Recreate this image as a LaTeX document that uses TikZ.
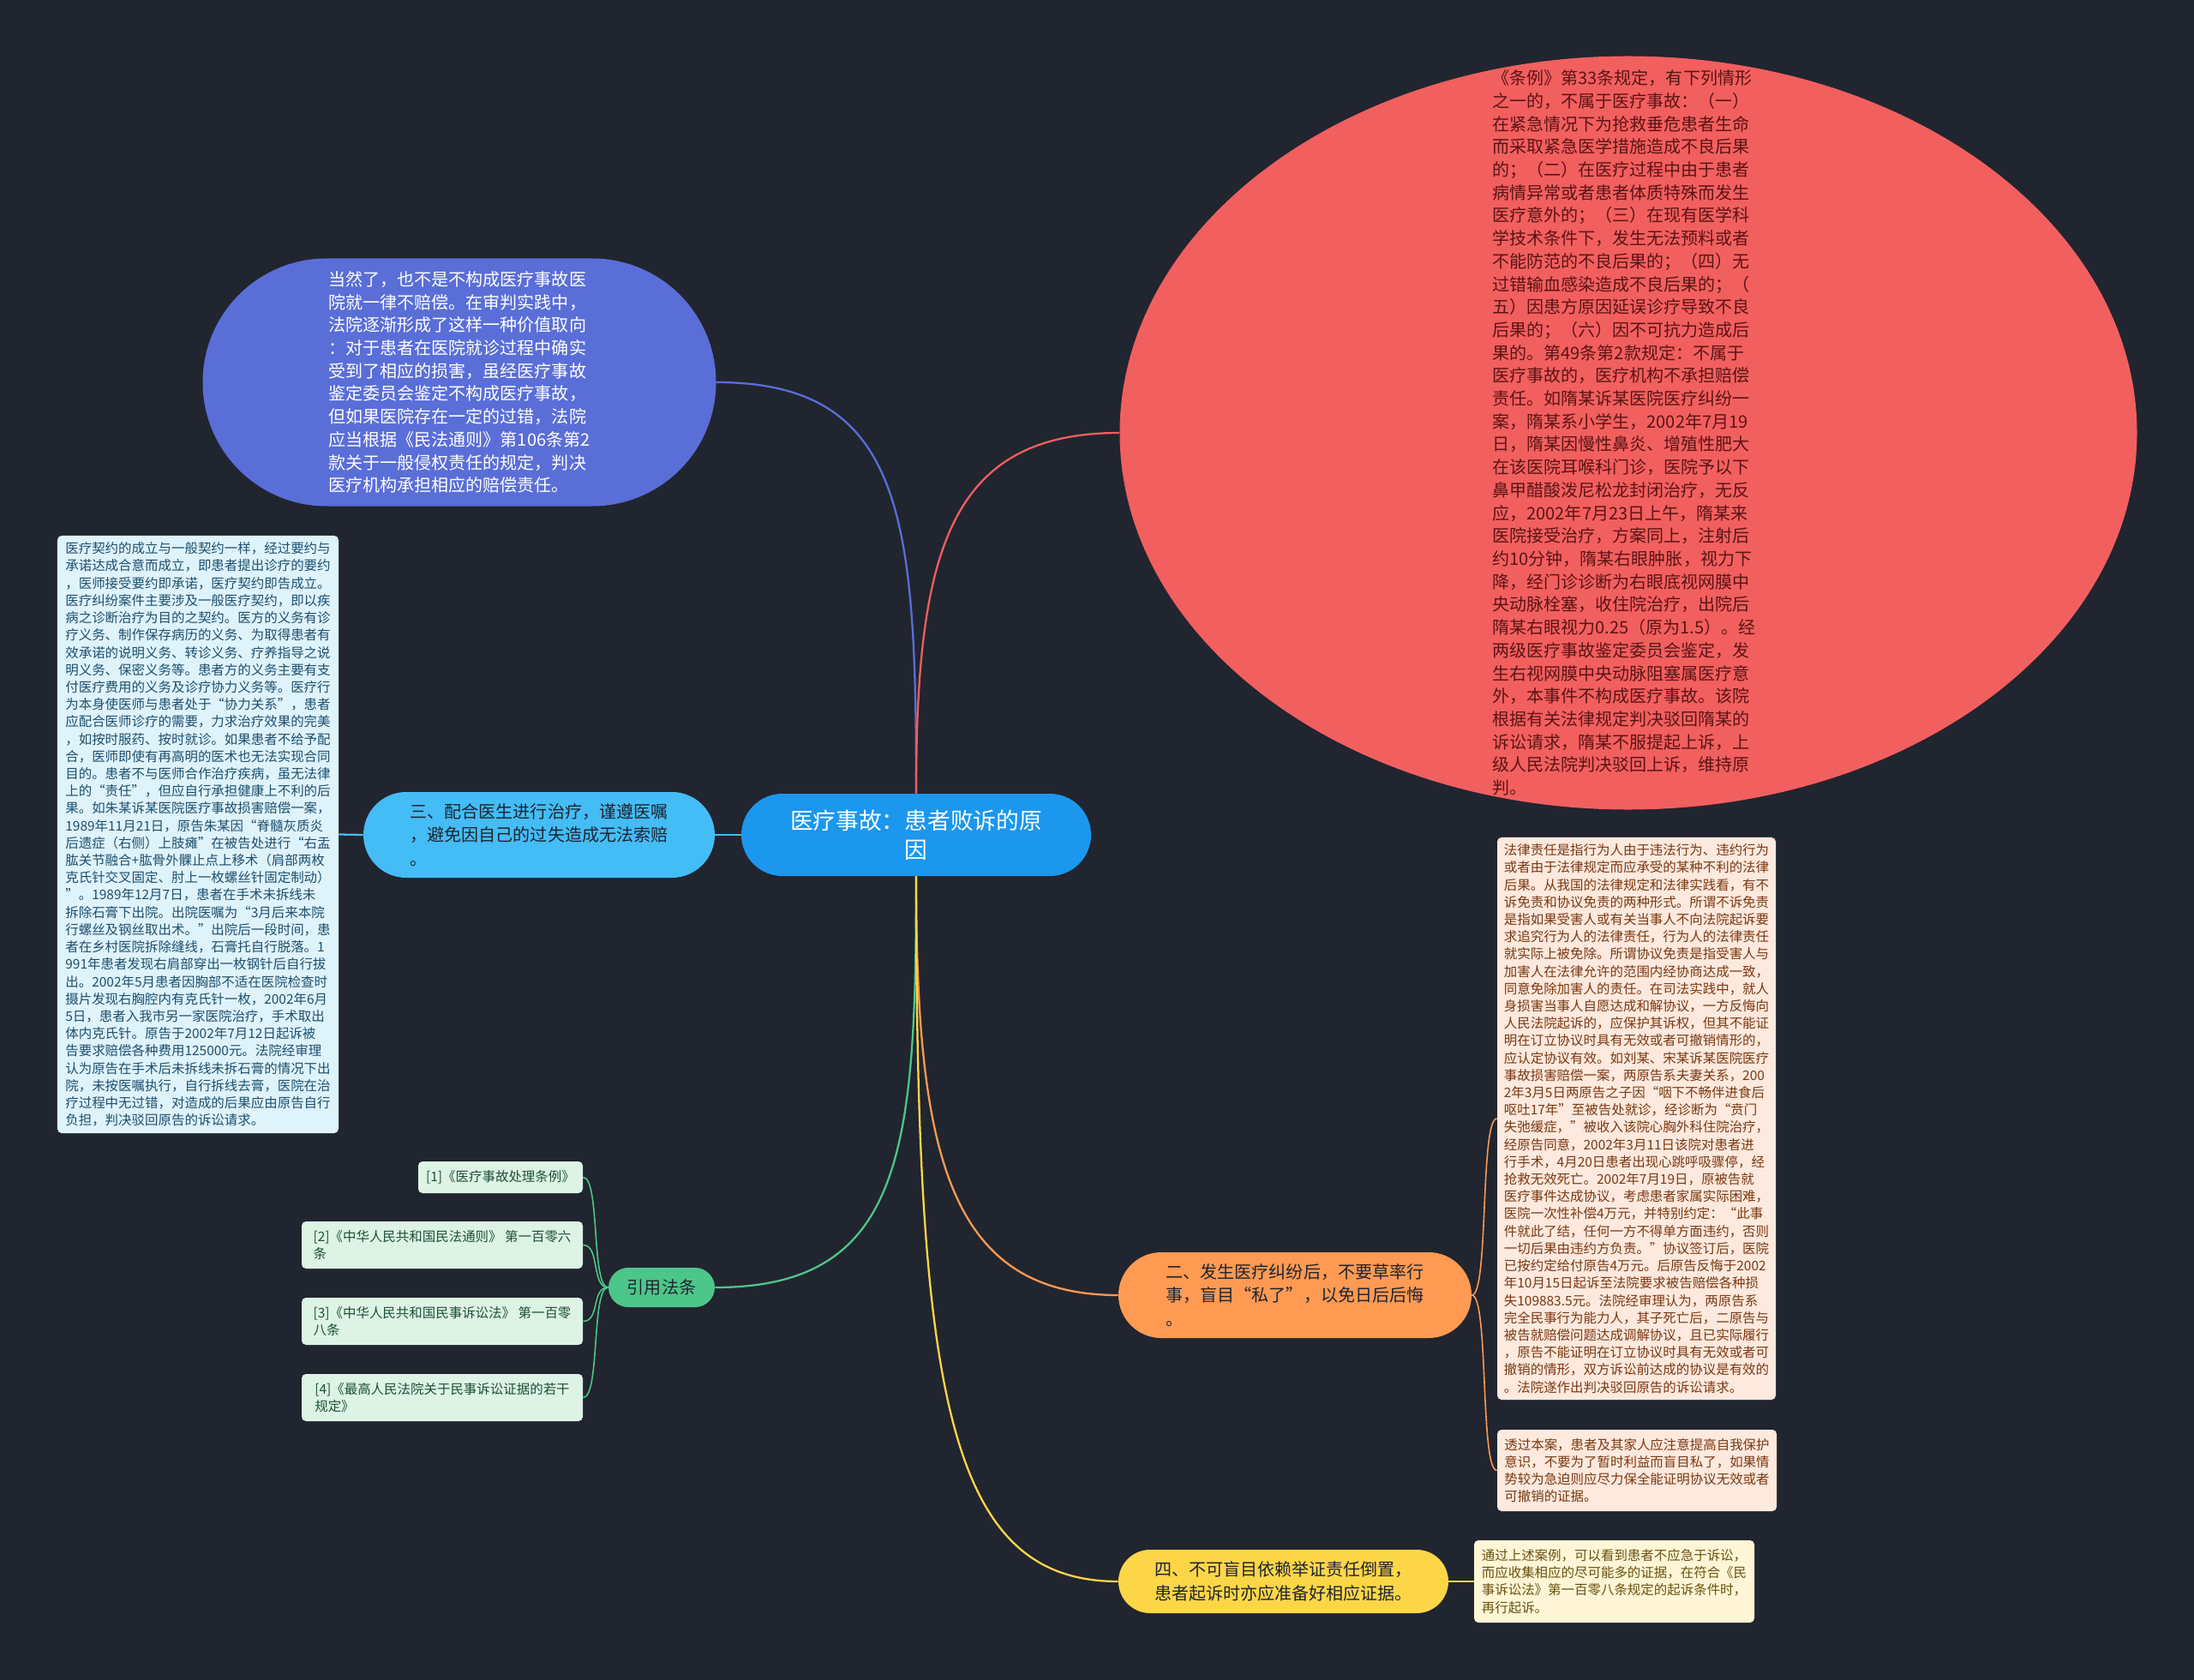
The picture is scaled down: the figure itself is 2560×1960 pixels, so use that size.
\documentclass[tikz,border=0pt]{standalone}
\usepackage{fontspec}
\setmainfont{Noto Sans CJK SC}
\usetikzlibrary{shapes.geometric}

\definecolor{bgdark}{HTML}{21252F}
\definecolor{ctrblue}{HTML}{1B97EE}
\definecolor{ovalblue}{HTML}{5A6ED8}
\definecolor{ovalred}{HTML}{F25F5F}
\definecolor{redink}{HTML}{5A1414}
\definecolor{skyblue}{HTML}{44BCF6}
\definecolor{iceblue}{HTML}{DFF3FB}
\definecolor{tealink}{HTML}{1C4F6E}
\definecolor{citegreen}{HTML}{4DC689}
\definecolor{mint}{HTML}{DCF3E5}
\definecolor{greenink}{HTML}{1F4F38}
\definecolor{orangebr}{HTML}{FF9A52}
\definecolor{peach}{HTML}{FDE9DE}
\definecolor{brownink}{HTML}{7A3810}
\definecolor{yellowbr}{HTML}{FDD648}
\definecolor{cream}{HTML}{FEF6D6}
\definecolor{oliveink}{HTML}{6A5010}
\definecolor{darkink}{HTML}{1F2430}

\begin{document}
\begin{tikzpicture}[x=0.2mm, y=-0.2mm,
    pill/.style={rounded corners=#1, inner sep=0pt, align=left},
    note/.style={rounded corners=1mm, inner sep=0pt, align=left, font=\fontsize{8.8}{11.5}\selectfont},
    big/.style={font=\fontsize{11.4}{15.2}\selectfont},
    mid/.style={font=\fontsize{11.4}{15.8}\selectfont},
    link/.style={draw, line width=1.3pt},
    thin/.style={draw, line width=0.9pt}
]
    \fill[bgdark] (0,0) rectangle (2560,1960);
    \useasboundingbox (0,0) rectangle (2560,1960);

    % centre
    \node [pill=9.6mm, fill=ctrblue, text=white, align=center, minimum width=81.6mm, minimum height=19.2mm,
           font=\fontsize{15.2}{19.3}\selectfont] (ctr) at (1069,974) {医疗事故：患者败诉的原\\因};

    % top left oval
    \node [pill=28.9mm, fill=ovalblue, text=white, big, minimum width=119.8mm, minimum height=57.8mm] (blueoval) at (536,446) {当然了，也不是不构成医疗事故医\\
院就一律不赔偿。在审判实践中，\\
法院逐渐形成了这样一种价值取向\\
：对于患者在医院就诊过程中确实\\
受到了相应的损害，虽经医疗事故\\
鉴定委员会鉴定不构成医疗事故，\\
但如果医院存在一定的过错，法院\\
应当根据《民法通则》第106条第2\\
款关于一般侵权责任的规定，判决\\
医疗机构承担相应的赔偿责任。};

    % top right oval
    \node [ellipse, fill=ovalred, minimum width=237.4mm, minimum height=175.8mm, inner sep=0pt] (redoval) at (1900,505) {};
    \node [text=redink, big, align=left, inner sep=0pt] (redtxt) at (1895,505) {《条例》第33条规定，有下列情形\\
之一的，不属于医疗事故：（一）\\
在紧急情况下为抢救垂危患者生命\\
而采取紧急医学措施造成不良后果\\
的；（二）在医疗过程中由于患者\\
病情异常或者患者体质特殊而发生\\
医疗意外的；（三）在现有医学科\\
学技术条件下，发生无法预料或者\\
不能防范的不良后果的；（四）无\\
过错输血感染造成不良后果的；（\\
五）因患方原因延误诊疗导致不良\\
后果的；（六）因不可抗力造成后\\
果的。第49条第2款规定：不属于\\
医疗事故的，医疗机构不承担赔偿\\
责任。如隋某诉某医院医疗纠纷一\\
案，隋某系小学生，2002年7月19\\
日，隋某因慢性鼻炎、增殖性肥大\\
在该医院耳喉科门诊，医院予以下\\
鼻甲醋酸泼尼松龙封闭治疗，无反\\
应，2002年7月23日上午，隋某来\\
医院接受治疗，方案同上，注射后\\
约10分钟，隋某右眼肿胀，视力下\\
降，经门诊诊断为右眼底视网膜中\\
央动脉栓塞，收住院治疗，出院后\\
隋某右眼视力0.25（原为1.5）。经\\
两级医疗事故鉴定委员会鉴定，发\\
生右视网膜中央动脉阻塞属医疗意\\
外，本事件不构成医疗事故。该院\\
根据有关法律规定判决驳回隋某的\\
诉讼请求，隋某不服提起上诉，上\\
级人民法院判决驳回上诉，维持原\\
判。};

    % branch three and its note
    \node [pill=10mm, fill=skyblue, text=darkink, mid, minimum width=82mm, minimum height=20mm] (br3) at (629,974) {三、配合医生进行治疗，谨遵医嘱\\，避免因自己的过失造成无法索赔\\。};
    \node [note, fill=iceblue, text=tealink, minimum width=65.6mm, minimum height=139.4mm] (leftnote) at (231,973.5) {医疗契约的成立与一般契约一样，经过要约与\\
承诺达成合意而成立，即患者提出诊疗的要约\\
，医师接受要约即承诺，医疗契约即告成立。\\
医疗纠纷案件主要涉及一般医疗契约，即以疾\\
病之诊断治疗为目的之契约。医方的义务有诊\\
疗义务、制作保存病历的义务、为取得患者有\\
效承诺的说明义务、转诊义务、疗养指导之说\\
明义务、保密义务等。患者方的义务主要有支\\
付医疗费用的义务及诊疗协力义务等。医疗行\\
为本身使医师与患者处于“协力关系”，患者\\
应配合医师诊疗的需要，力求治疗效果的完美\\
，如按时服药、按时就诊。如果患者不给予配\\
合，医师即使有再高明的医术也无法实现合同\\
目的。患者不与医师合作治疗疾病，虽无法律\\
上的“责任”，但应自行承担健康上不利的后\\
果。如朱某诉某医院医疗事故损害赔偿一案，\\
1989年11月21日，原告朱某因“脊髓灰质炎\\
后遗症（右侧）上肢瘫”在被告处进行“右盂\\
肱关节融合+肱骨外髁止点上移术（肩部两枚\\
克氏针交叉固定、肘上一枚螺丝针固定制动）\\
”。1989年12月7日，患者在手术未拆线未\\
拆除石膏下出院。出院医嘱为“3月后来本院\\
行螺丝及钢丝取出术。”出院后一段时间，患\\
者在乡村医院拆除缝线，石膏托自行脱落。1\\
991年患者发现右肩部穿出一枚钢针后自行拔\\
出。2002年5月患者因胸部不适在医院检查时\\
摄片发现右胸腔内有克氏针一枚，2002年6月\\
5日，患者入我市另一家医院治疗，手术取出\\
体内克氏针。原告于2002年7月12日起诉被\\
告要求赔偿各种费用125000元。法院经审理\\
认为原告在手术后未拆线未拆石膏的情况下出\\
院，未按医嘱执行，自行拆线去膏，医院在治\\
疗过程中无过错，对造成的后果应由原告自行\\
负担，判决驳回原告的诉讼请求。};

    % cited laws
    \node [pill=4.6mm, fill=citegreen, text=darkink, mid, minimum width=24.8mm, minimum height=9.2mm] (cite) at (772,1502) {引用法条};
    \node [note, fill=mint, text=greenink, minimum width=38.4mm, minimum height=7.4mm] (ref1) at (584,1373.5) {[1]《医疗事故处理条例》};
    \node [note, fill=mint, text=greenink, minimum width=65.6mm, minimum height=11mm] (ref2) at (516,1452.5) {[2]《中华人民共和国民法通则》 第一百零六\\条};
    \node [note, fill=mint, text=greenink, minimum width=65.6mm, minimum height=11mm] (ref3) at (516,1541.5) {[3]《中华人民共和国民事诉讼法》 第一百零\\八条};
    \node [note, fill=mint, text=greenink, minimum width=65.6mm, minimum height=11mm] (ref4) at (516,1630.5) {[4]《最高人民法院关于民事诉讼证据的若干\\规定》};

    % branch two and its notes
    \node [pill=10mm, fill=orangebr, text=darkink, mid, minimum width=82.4mm, minimum height=20mm] (br2) at (1511,1511) {二、发生医疗纠纷后，不要草率行\\事，盲目“私了”，以免日后后悔\\。};
    \node [note, fill=peach, text=brownink, minimum width=65mm, minimum height=131.2mm] (rightnote) at (1909.5,1305) {法律责任是指行为人由于违法行为、违约行为\\
或者由于法律规定而应承受的某种不利的法律\\
后果。从我国的法律规定和法律实践看，有不\\
诉免责和协议免责的两种形式。所谓不诉免责\\
是指如果受害人或有关当事人不向法院起诉要\\
求追究行为人的法律责任，行为人的法律责任\\
就实际上被免除。所谓协议免责是指受害人与\\
加害人在法律允许的范围内经协商达成一致，\\
同意免除加害人的责任。在司法实践中，就人\\
身损害当事人自愿达成和解协议，一方反悔向\\
人民法院起诉的，应保护其诉权，但其不能证\\
明在订立协议时具有无效或者可撤销情形的，\\
应认定协议有效。如刘某、宋某诉某医院医疗\\
事故损害赔偿一案，两原告系夫妻关系，200\\
2年3月5日两原告之子因“咽下不畅伴进食后\\
呕吐17年”至被告处就诊，经诊断为“贲门\\
失弛缓症，”被收入该院心胸外科住院治疗，\\
经原告同意，2002年3月11日该院对患者进\\
行手术，4月20日患者出现心跳呼吸骤停，经\\
抢救无效死亡。2002年7月19日，原被告就\\
医疗事件达成协议，考虑患者家属实际困难，\\
医院一次性补偿4万元，并特别约定：“此事\\
件就此了结，任何一方不得单方面违约，否则\\
一切后果由违约方负责。”协议签订后，医院\\
已按约定给付原告4万元。后原告反悔于2002\\
年10月15日起诉至法院要求被告赔偿各种损\\
失109883.5元。法院经审理认为，两原告系\\
完全民事行为能力人，其子死亡后，二原告与\\
被告就赔偿问题达成调解协议，且已实际履行\\
，原告不能证明在订立协议时具有无效或者可\\
撤销的情形，双方诉讼前达成的协议是有效的\\
。法院遂作出判决驳回原告的诉讼请求。};
    \node [note, fill=peach, text=brownink, minimum width=65.2mm, minimum height=19mm] (tip1) at (1910,1715.5) {透过本案，患者及其家人应注意提高自我保护\\
意识，不要为了暂时利益而盲目私了，如果情\\
势较为急迫则应尽力保全能证明协议无效或者\\
可撤销的证据。};

    % branch four and its note
    \node [pill=7.4mm, fill=yellowbr, text=darkink, mid, minimum width=77mm, minimum height=14.8mm] (br4) at (1497.5,1845) {四、不可盲目依赖举证责任倒置，\\患者起诉时亦应准备好相应证据。};
    \node [note, fill=cream, text=oliveink, minimum width=65.4mm, minimum height=19.2mm] (tip2) at (1883.5,1845) {通过上述案例，可以看到患者不应急于诉讼，\\
而应收集相应的尽可能多的证据，在符合《民\\
事诉讼法》第一百零八条规定的起诉条件时，\\
再行起诉。};

    % connectors
    \draw [link, ovalblue] (ctr.north) .. controls +(0,-320) and +(220,0) .. (blueoval.east);
    \draw [link, ovalred] (ctr.north) .. controls +(0,-280) and +(-200,0) .. (redoval.west);
    \draw [link, skyblue] (ctr.west) -- (br3.east);
    \draw [link, skyblue] (br3.west) -- (leftnote.east);
    \draw [link, citegreen] (ctr.south) .. controls +(0,320) and +(220,0) .. (cite.east);
    \draw [link, orangebr] (ctr.south) .. controls +(0,320) and +(-200,0) .. (br2.west);
    \draw [link, yellowbr] (ctr.south) .. controls +(0,600) and +(-200,0) .. (br4.west);
    \foreach \r in {ref1,ref2,ref3,ref4}
        \draw [thin, citegreen] (cite.west) .. controls +(-20,0) and +(20,0) .. (\r.east);
    \draw [thin, orangebr] (br2.east) .. controls +(20,0) and +(-20,0) .. (rightnote.west);
    \draw [thin, orangebr] (br2.east) .. controls +(20,0) and +(-20,0) .. (tip1.west);
    \draw [thin, yellowbr] (br4.east) -- (tip2.west);
\end{tikzpicture}
\end{document}
